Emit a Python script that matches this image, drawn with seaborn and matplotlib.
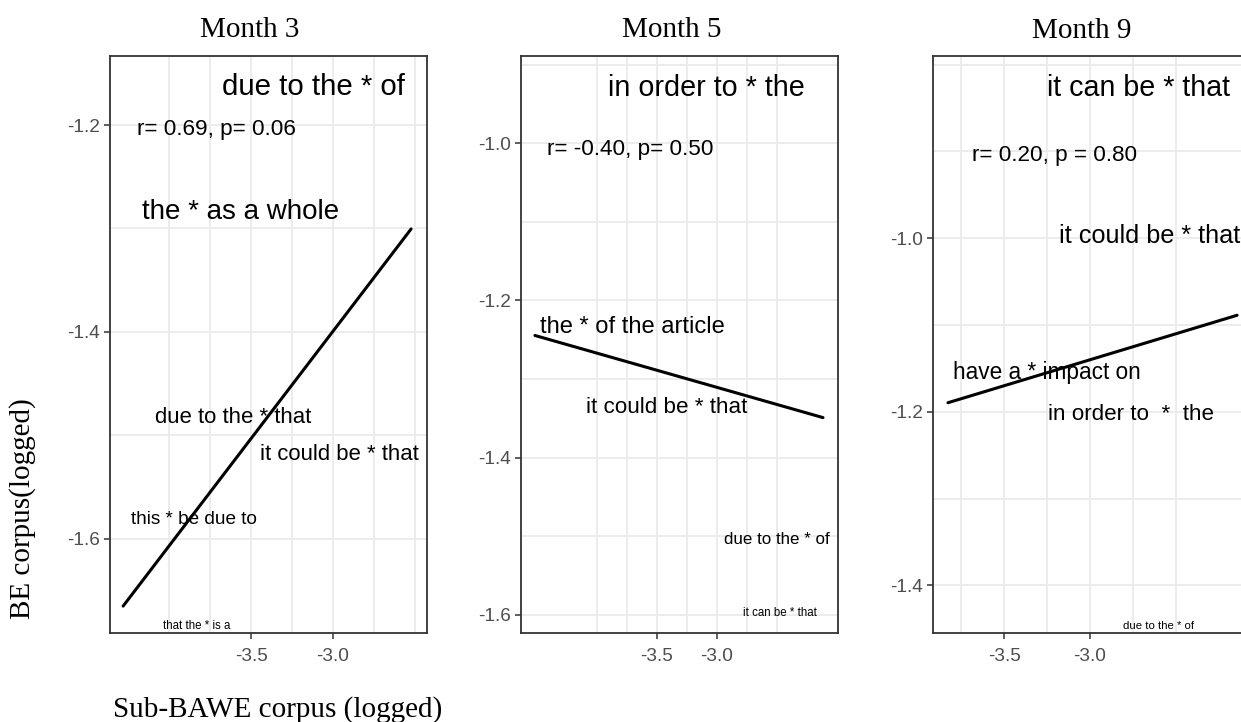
import matplotlib
matplotlib.use("Agg")
import matplotlib.pyplot as plt
from matplotlib.transforms import offset_copy
import seaborn as sns
import pandas as pd

# ---------------- data ----------------
titles = ["Month 3", "Month 5", "Month 9"]

# Month 3
m3_labels = ["due to the * of", "the * as a whole", "due to the * that",
             "it could be * that", "this * be due to", "that the * is a"]
m3_x = [-3.122, -3.561, -3.61, -2.963, -3.85, -3.832]
m3_y = [-1.161, -1.282, -1.480, -1.516, -1.579, -1.682]
m3_fit_x = [-4.28, -2.524]
m3_fit_y = [-1.665, -1.3005]
m3_stat = "r= 0.69, p= 0.06"
m3_stat_xy = (-4.195, -1.202)

# Month 5
m5_labels = ["in order to * the", "the * of the article", "it could be * that",
             "due to the * of", "it can be * that"]
m5_x = [-3.0875, -3.704, -3.417, -2.50, -2.475]
m5_y = [-0.926, -1.231, -1.333, -1.501, -1.594]
m5_fit_x = [-4.517, -2.117]
m5_fit_y = [-1.2445, -1.349]
m5_stat = "r= -0.40, p= 0.50"
m5_stat_xy = (-4.417, -1.005)

# Month 9
m9_labels = ["it can be * that", "it could be * that", "have a * impact on",
             "in order to  *  the", "due to the * of"]
m9_x = [-2.718, -3.180, -3.253, -2.7645, -2.602]
m9_y = [-0.824, -0.994, -1.152, -1.2006, -1.444]
m9_fit_x = [-3.826, -2.145]
m9_fit_y = [-1.1896, -1.0888]
m9_stat = "r= 0.20, p = 0.80"
m9_stat_xy = (-3.686, -0.902)

x_tick_values = [-3.5, -3.0]
x_grid_values = [-4.0, -3.75, -3.5, -3.25, -3.0, -2.75, -2.5]
m3_y_ticks = [-1.2, -1.4, -1.6]
m5_y_ticks = [-1.0, -1.2, -1.4, -1.6]
m9_y_ticks = [-1.0, -1.2, -1.4]
m3_y_grid = [-1.2, -1.3, -1.4, -1.5, -1.6]
m5_y_grid = [-0.9, -1.0, -1.1, -1.2, -1.3, -1.4, -1.5, -1.6]
m9_y_grid = [-0.8, -0.9, -1.0, -1.1, -1.2, -1.3, -1.4]

x_label = "Sub-BAWE corpus (logged)"
y_label = "BE corpus(logged)"

# ---------------- styles ----------------
m3_sizes = [21.2, 20.0, 15.9, 15.9, 13.7, 8.3]
m5_sizes = [20.7, 17.1, 16.1, 12.2, 8.3]
m9_sizes = [20.6, 18.2, 16.3, 16.1, 8.2]
m3_ha = ["center"] * 6
m5_ha = ["center"] * 5
m9_ha = ["center", "left", "center", "center", "center"]

sns.set_theme(style="white")
SANS = ["Liberation Sans", "DejaVu Sans"]
SERIF = ["Liberation Serif", "DejaVu Serif"]
plt.rcParams["font.family"] = SANS

fig = plt.figure(figsize=(12.41, 7.22), dpi=100)
W, H = 1241, 722

def frame(px_left, px_top, px_w, px_h):
    return [px_left / W, 1 - (px_top + px_h) / H, px_w / W, px_h / H]

panels = [
    dict(rect=frame(110, 56, 317, 577), xlim=(-4.360, -2.427), ylim=(-1.691, -1.1333),
         labels=m3_labels, x=m3_x, y=m3_y, sizes=m3_sizes, ha=m3_ha,
         fx=m3_fit_x, fy=m3_fit_y, stat=m3_stat, sxy=m3_stat_xy,
         yt=m3_y_ticks, yg=m3_y_grid),
    dict(rect=frame(521, 56, 317, 577), xlim=(-4.633, -1.992), ylim=(-1.623, -0.889),
         labels=m5_labels, x=m5_x, y=m5_y, sizes=m5_sizes, ha=m5_ha,
         fx=m5_fit_x, fy=m5_fit_y, stat=m5_stat, sxy=m5_stat_xy,
         yt=m5_y_ticks, yg=m5_y_grid),
    dict(rect=frame(933, 56, 317, 577), xlim=(-3.913, -2.070), ylim=(-1.455, -0.790),
         labels=m9_labels, x=m9_x, y=m9_y, sizes=m9_sizes, ha=m9_ha,
         fx=m9_fit_x, fy=m9_fit_y, stat=m9_stat, sxy=m9_stat_xy,
         yt=m9_y_ticks, yg=m9_y_grid),
]

for p in panels:
    ax = fig.add_axes(p["rect"])
    df = pd.DataFrame({"x": p["fx"], "y": p["fy"]})
    sns.lineplot(data=df, x="x", y="y", ax=ax, color="black", linewidth=2.2,
                 estimator=None, sort=False)
    x0, x1 = p["xlim"]
    y0, y1 = p["ylim"]
    ax.set_xticks(x_tick_values)
    ax.set_xticklabels([f"{v:.1f}" for v in x_tick_values])
    ax.set_xticks([v for v in x_grid_values if x0 <= v <= x1], minor=True)
    ax.set_yticks(p["yt"])
    ax.set_yticklabels([f"{v:.1f}" for v in p["yt"]])
    ax.set_yticks([v for v in p["yg"] if y0 <= v <= y1], minor=True)
    ax.set_xlim(x0, x1)
    ax.set_ylim(y0, y1)
    ax.grid(which="both", color="#EBEBEB", linewidth=1.3, zorder=0)
    ax.set_axisbelow(True)
    ax.tick_params(which="minor", length=0)
    ax.tick_params(which="major", length=4, width=1.1, color="#333333",
                   labelcolor="#4D4D4D", labelsize=13.7, direction="out",
                   bottom=True, left=True)
    ax.tick_params(axis="x", pad=6.5)
    ax.tick_params(axis="y", pad=3)
    for s in ax.spines.values():
        s.set_color("#333333")
        s.set_linewidth(1.3)
    tr = offset_copy(ax.transData, fig=fig, x=0, y=-2.5, units="dots")
    for lab, xx, yy, sz, ha in zip(p["labels"], p["x"], p["y"], p["sizes"], p["ha"]):
        ax.text(xx, yy, lab, fontsize=sz, ha=ha, va="center", color="black",
                family=SANS, transform=tr)
    ax.text(p["sxy"][0], p["sxy"][1], p["stat"], fontsize=16.2, ha="left",
            va="center", color="black", family=SANS, transform=tr)
    ax.set_xlabel("")
    ax.set_ylabel("")

title_pos = [(250, 30), (672, 30), (1082, 31)]
for t, (px, py) in zip(titles, title_pos):
    fig.text(px / W, 1 - py / H, t, fontsize=21, family=SERIF, ha="center",
             va="center", color="black")

fig.text(23 / W, 1 - 509 / H, y_label, fontsize=21, family=SERIF, rotation=90,
         ha="center", va="center", color="black")
fig.text(113 / W, 1 - 710 / H, x_label, fontsize=21, family=SERIF, ha="left",
         va="center", color="black")

fig.savefig("out.png", dpi=100)
